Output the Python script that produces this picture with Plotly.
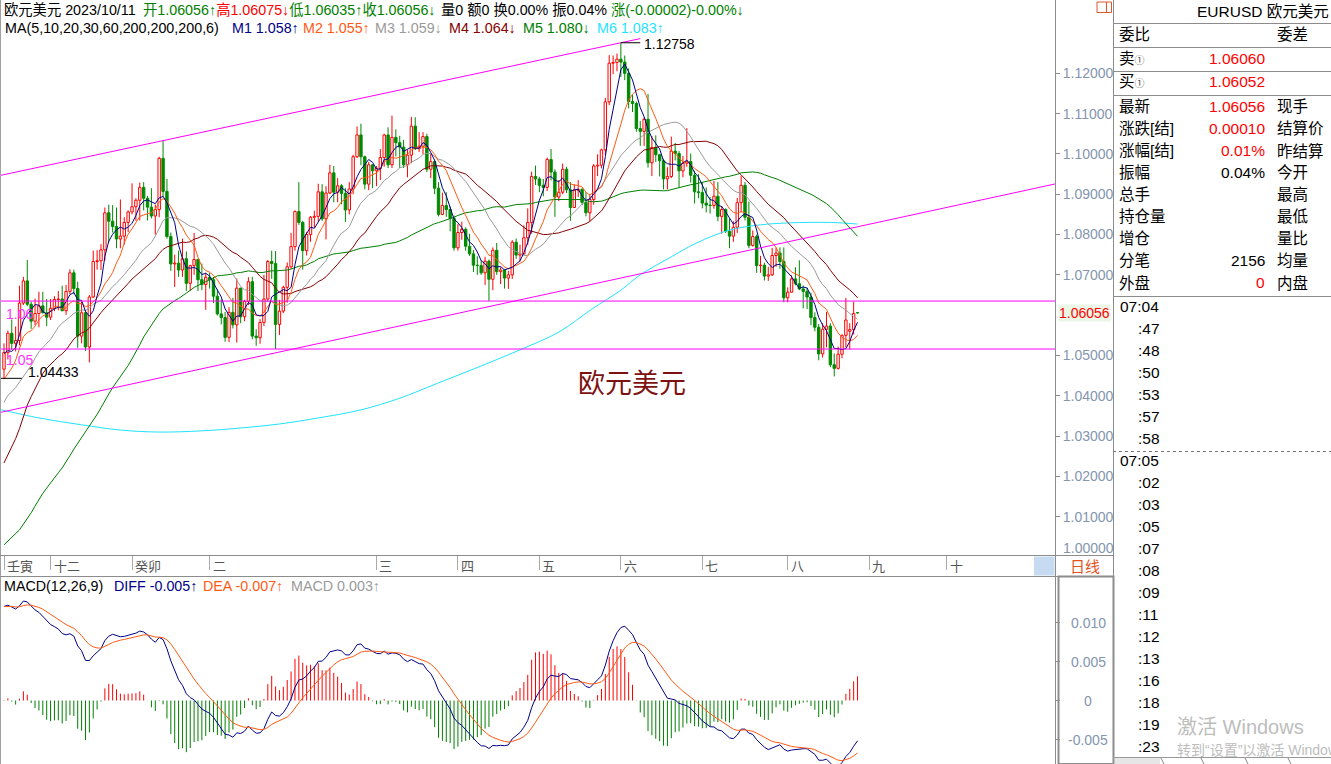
import plotly.graph_objects as go
import pandas as pd

W, H = 1331, 764
FONT = "Arial, 'Liberation Sans', 'Noto Sans CJK SC', sans-serif"

# ------------------------------------------------------------------ data
# lunar-month axis labels (candle index where each month starts)
lunar_idx = [0, 12, 33, 53, 96, 117, 138, 159, 180, 202, 223, 243]
lunar_txt = ["壬寅", "十二", "癸卯", "二", "三", "四", "五", "六", "七", "八", "九", "十"]

# closes before the visible window (indicator warm-up only)
prior_close = [
    1.0120, 0.9968, 0.9979, 0.9998, 1.0016, 1.0026, 0.9971, 0.9837, 0.9838, 0.9690,
    0.9608, 0.9592, 0.9735, 0.9815, 0.9802, 0.9826, 0.9985, 0.9890, 0.9795, 0.9741,
    0.9703, 0.9707, 0.9703, 0.9778, 0.9722, 0.9838, 0.9858, 0.9773, 0.9779, 0.9862,
    0.9880, 0.9962, 1.0078, 0.9968, 0.9964, 0.9882, 0.9877, 0.9817, 0.9750, 0.9960,
    1.0018, 1.0074, 1.0013, 1.0210, 1.0355, 1.0327, 1.0352, 1.0393, 1.0363, 1.0325,
    1.0242, 1.0304, 1.0397, 1.0410, 1.0398, 1.0340, 1.0330, 1.0405, 1.0522, 1.0538,
    1.0493, 1.0466]

open_ = [
    1.0466, 1.0507, 1.0555, 1.0530, 1.0537, 1.0630, 1.0685, 1.0627, 1.0585, 1.0604,
    1.0623, 1.0606, 1.0595, 1.0617, 1.0639, 1.0640, 1.0611, 1.0659, 1.0705, 1.0666,
    1.0548, 1.0606, 1.0521, 1.0645, 1.0733, 1.0735, 1.0762, 1.0854, 1.0833, 1.0820,
    1.0789, 1.0796, 1.0830, 1.0856, 1.0869, 1.0885, 1.0917, 1.0890, 1.0868, 1.0846,
    1.0862, 1.0989, 1.0907, 1.0795, 1.0727, 1.0729, 1.0712, 1.0740, 1.0679, 1.0723,
    1.0738, 1.0688, 1.0676, 1.0694, 1.0688, 1.0647, 1.0603, 1.0594, 1.0545, 1.0607,
    1.0576, 1.0667, 1.0596, 1.0634, 1.0683, 1.0548, 1.0544, 1.0582, 1.0640, 1.0733,
    1.0728, 1.0577, 1.0610, 1.0669, 1.0720, 1.0770, 1.0857, 1.0830, 1.0760, 1.0800,
    1.0843, 1.0845, 1.0906, 1.0839, 1.0903, 1.0953, 1.0905, 1.0921, 1.0902, 1.0861,
    1.0913, 1.0993, 1.1047, 1.0993, 1.0925, 1.0973, 1.0958, 1.0964, 1.0991, 1.1047,
    1.0973, 1.1041, 1.1028, 1.1017, 1.0973, 1.0997, 1.1069, 1.1013, 1.1019, 1.1043,
    1.0962, 1.0981, 1.0915, 1.0850, 1.0872, 1.0862, 1.0840, 1.0767, 1.0805, 1.0813,
    1.0771, 1.0752, 1.0724, 1.0723, 1.0705, 1.0734, 1.0689, 1.0761, 1.0708, 1.0712,
    1.0692, 1.0700, 1.0781, 1.0749, 1.0752, 1.0792, 1.0830, 1.0944, 1.0938, 1.0922,
    1.0917, 1.0986, 1.0955, 1.0893, 1.0905, 1.0962, 1.0911, 1.0867, 1.0910, 1.0912,
    1.0880, 1.0854, 1.0887, 1.0970, 1.0972, 1.1010, 1.1129, 1.1225, 1.1227, 1.1235,
    1.1228, 1.1200, 1.1130, 1.1125, 1.1063, 1.1056, 1.1086, 1.0978, 1.1016, 1.0998,
    1.0983, 1.0938, 1.0944, 1.1007, 1.1001, 1.0958, 1.0977, 1.0981, 1.0947, 1.0906,
    1.0904, 1.0878, 1.0873, 1.0872, 1.0895, 1.0845, 1.0862, 1.0808, 1.0796, 1.0818,
    1.0879, 1.0922, 1.0843, 1.0773, 1.0795, 1.0723, 1.0724, 1.0697, 1.0700, 1.0748,
    1.0754, 1.0733, 1.0643, 1.0657, 1.0690, 1.0678, 1.0665, 1.0659, 1.0645, 1.0594,
    1.0570, 1.0504, 1.0565, 1.0573, 1.0477, 1.0468, 1.0503, 1.0550, 1.0560, 1.0564,
    1.06056]

high = [
    1.0530, 1.0562, 1.0589, 1.0572, 1.0673, 1.0695, 1.0737, 1.0633, 1.0641, 1.0658,
    1.0658, 1.0640, 1.0640, 1.0647, 1.0660, 1.0673, 1.0675, 1.0714, 1.0713, 1.0683,
    1.0634, 1.0613, 1.0650, 1.0760, 1.0761, 1.0776, 1.0867, 1.0874, 1.0873, 1.0867,
    1.0887, 1.0843, 1.0860, 1.0927, 1.0890, 1.0929, 1.0930, 1.0896, 1.0915, 1.0874,
    1.0993, 1.1033, 1.0938, 1.0805, 1.0750, 1.0760, 1.0790, 1.0758, 1.0725, 1.0804,
    1.0740, 1.0728, 1.0705, 1.0705, 1.0695, 1.0664, 1.0639, 1.0608, 1.0620, 1.0643,
    1.0691, 1.0668, 1.0638, 1.0694, 1.0695, 1.0565, 1.0590, 1.0700, 1.0737, 1.0760,
    1.0759, 1.0638, 1.0673, 1.0731, 1.0804, 1.0860, 1.0930, 1.0834, 1.0806, 1.0846,
    1.0859, 1.0926, 1.0925, 1.0920, 1.0973, 1.0970, 1.0940, 1.0925, 1.0915, 1.0930,
    1.0998, 1.1068, 1.1075, 1.0996, 1.0980, 1.0974, 1.0970, 1.1012, 1.1050, 1.1066,
    1.1095, 1.1061, 1.1045, 1.1035, 1.1010, 1.1092, 1.1091, 1.1054, 1.1054, 1.1050,
    1.1000, 1.0986, 1.0930, 1.0904, 1.0905, 1.0870, 1.0847, 1.0826, 1.0832, 1.0818,
    1.0802, 1.0762, 1.0746, 1.0736, 1.0745, 1.0738, 1.0768, 1.0779, 1.0719, 1.0713,
    1.0710, 1.0786, 1.0790, 1.0775, 1.0823, 1.0865, 1.0956, 1.0971, 1.0943, 1.0938,
    1.0991, 1.1012, 1.0962, 1.0935, 1.0976, 1.0968, 1.0930, 1.0925, 1.0935, 1.0915,
    1.0905, 1.0900, 1.0975, 1.0999, 1.1013, 1.1139, 1.1245, 1.1244, 1.1249, 1.12758,
    1.1244, 1.1212, 1.1147, 1.1130, 1.1082, 1.1090, 1.1149, 1.1044, 1.1046, 1.1000,
    1.0988, 1.0967, 1.1043, 1.1027, 1.1007, 1.0995, 1.1064, 1.1001, 1.0958, 1.0950,
    1.0930, 1.0917, 1.0893, 1.0933, 1.0930, 1.0871, 1.0865, 1.0840, 1.0833, 1.0891,
    1.0945, 1.0930, 1.0882, 1.0810, 1.0800, 1.0747, 1.0730, 1.0720, 1.0767, 1.0768,
    1.0768, 1.0768, 1.0669, 1.0699, 1.0719, 1.0736, 1.0674, 1.0668, 1.0656, 1.0607,
    1.0578, 1.0580, 1.0608, 1.0580, 1.0505, 1.0522, 1.0552, 1.0643, 1.0580, 1.0633,
    1.06075]

low = [
    1.0443, 1.0490, 1.0514, 1.0510, 1.0525, 1.0625, 1.0622, 1.0566, 1.0575, 1.0570,
    1.0604, 1.0573, 1.0588, 1.0610, 1.0612, 1.0610, 1.0601, 1.0652, 1.0652, 1.0519,
    1.0530, 1.0511, 1.0483, 1.0643, 1.0713, 1.0712, 1.0735, 1.0780, 1.0805, 1.0766,
    1.0766, 1.0775, 1.0806, 1.0850, 1.0834, 1.0835, 1.0860, 1.0835, 1.0840, 1.0800,
    1.0843, 1.0893, 1.0790, 1.0710, 1.0670, 1.0695, 1.0695, 1.0660, 1.0660, 1.0700,
    1.0660, 1.0662, 1.0613, 1.0666, 1.0630, 1.0599, 1.0577, 1.0534, 1.0533, 1.0567,
    1.0532, 1.0580, 1.0585, 1.0625, 1.0540, 1.0524, 1.0529, 1.0573, 1.0633, 1.0690,
    1.0516, 1.0551, 1.0605, 1.0631, 1.0715, 1.0760, 1.0824, 1.0713, 1.0748, 1.0782,
    1.0817, 1.0832, 1.0834, 1.0788, 1.0900, 1.0880, 1.0880, 1.0875, 1.0831, 1.0850,
    1.0900, 1.0990, 1.0972, 1.0912, 1.0910, 1.0915, 1.0920, 1.0935, 1.0968, 1.0965,
    1.0965, 1.0994, 1.0965, 1.0965, 1.0942, 1.0977, 1.1010, 1.1005, 1.1000, 1.0955,
    1.0940, 1.0900, 1.0845, 1.0848, 1.0844, 1.0808, 1.0760, 1.0760, 1.0787, 1.0760,
    1.0747, 1.0707, 1.0700, 1.0700, 1.0675, 1.0635, 1.0662, 1.0700, 1.0677, 1.0666,
    1.0665, 1.0690, 1.0740, 1.0733, 1.0750, 1.0774, 1.0802, 1.0923, 1.0905, 1.0895,
    1.0908, 1.0934, 1.0844, 1.0883, 1.0900, 1.0903, 1.0834, 1.0866, 1.0893, 1.0873,
    1.0845, 1.0833, 1.0874, 1.0945, 1.0964, 1.0997, 1.1121, 1.1198, 1.1205, 1.1191,
    1.1183, 1.1113, 1.1104, 1.1055, 1.1020, 1.1020, 1.0966, 1.0945, 1.0980, 1.0944,
    1.0912, 1.0912, 1.0940, 1.0984, 1.0917, 1.0942, 1.0968, 1.0929, 1.0877, 1.0890,
    1.0865, 1.0855, 1.0852, 1.0864, 1.0833, 1.0802, 1.0804, 1.0766, 1.0782, 1.0804,
    1.0855, 1.0835, 1.0766, 1.0770, 1.0705, 1.0705, 1.0686, 1.0685, 1.0697, 1.0720,
    1.0715, 1.0632, 1.0632, 1.0656, 1.0674, 1.0662, 1.0617, 1.0615, 1.0575, 1.0560,
    1.0488, 1.0495, 1.0520, 1.0471, 1.0448, 1.0465, 1.0493, 1.0520, 1.0515, 1.0552,
    1.06035]

close = [
    1.0507, 1.0555, 1.0530, 1.0537, 1.0630, 1.0685, 1.0627, 1.0585, 1.0604, 1.0623,
    1.0606, 1.0595, 1.0617, 1.0639, 1.0640, 1.0611, 1.0659, 1.0705, 1.0666, 1.0548,
    1.0606, 1.0521, 1.0645, 1.0733, 1.0735, 1.0762, 1.0854, 1.0833, 1.0820, 1.0789,
    1.0796, 1.0830, 1.0856, 1.0869, 1.0885, 1.0917, 1.0890, 1.0868, 1.0846, 1.0862,
    1.0989, 1.0907, 1.0795, 1.0727, 1.0729, 1.0712, 1.0740, 1.0679, 1.0723, 1.0738,
    1.0688, 1.0676, 1.0694, 1.0688, 1.0647, 1.0603, 1.0594, 1.0545, 1.0607, 1.0576,
    1.0667, 1.0596, 1.0634, 1.0683, 1.0548, 1.0544, 1.0582, 1.0640, 1.0733, 1.0728,
    1.0577, 1.0610, 1.0669, 1.0720, 1.0770, 1.0857, 1.0830, 1.0760, 1.0800, 1.0843,
    1.0845, 1.0906, 1.0839, 1.0903, 1.0953, 1.0905, 1.0921, 1.0902, 1.0861, 1.0913,
    1.0993, 1.1047, 1.0993, 1.0925, 1.0973, 1.0958, 1.0964, 1.0991, 1.1047, 1.0973,
    1.1041, 1.1028, 1.1017, 1.0973, 1.0997, 1.1069, 1.1013, 1.1019, 1.1043, 1.0962,
    1.0981, 1.0915, 1.0850, 1.0872, 1.0862, 1.0840, 1.0767, 1.0805, 1.0813, 1.0771,
    1.0752, 1.0724, 1.0723, 1.0705, 1.0734, 1.0689, 1.0761, 1.0708, 1.0712, 1.0692,
    1.0700, 1.0781, 1.0749, 1.0752, 1.0792, 1.0830, 1.0944, 1.0938, 1.0922, 1.0917,
    1.0986, 1.0955, 1.0893, 1.0905, 1.0962, 1.0911, 1.0867, 1.0910, 1.0912, 1.0880,
    1.0854, 1.0887, 1.0970, 1.0972, 1.1010, 1.1129, 1.1225, 1.1227, 1.1235, 1.1228,
    1.1200, 1.1130, 1.1125, 1.1063, 1.1056, 1.1086, 1.0978, 1.1016, 1.0998, 1.0983,
    1.0938, 1.0944, 1.1007, 1.1001, 1.0958, 1.0977, 1.0981, 1.0947, 1.0906, 1.0904,
    1.0878, 1.0873, 1.0872, 1.0895, 1.0845, 1.0862, 1.0808, 1.0796, 1.0818, 1.0879,
    1.0922, 1.0843, 1.0773, 1.0795, 1.0723, 1.0724, 1.0697, 1.0700, 1.0748, 1.0754,
    1.0733, 1.0643, 1.0657, 1.0690, 1.0678, 1.0665, 1.0659, 1.0645, 1.0594, 1.0570,
    1.0504, 1.0565, 1.0573, 1.0477, 1.0468, 1.0503, 1.0550, 1.0588, 1.0564, 1.0604,
    1.06056]

# MA(200) (its history lies outside the window)
ma200_idx = [-1, 9, 20, 30, 40, 51, 61, 71, 81, 92, 102, 112, 123, 133, 143,
             151.5, 159, 164, 171.5, 178.5, 187, 195, 202.5, 213, 220]
ma200_val = [1.0366, 1.0345, 1.0328, 1.0315, 1.0310, 1.0313, 1.0320, 1.0330, 1.0345,
             1.0365, 1.0394, 1.0432, 1.0474, 1.0514, 1.0558, 1.0615, 1.0662, 1.0700,
             1.0742, 1.0779, 1.0811, 1.0824, 1.0829, 1.0830, 1.0826]

price_ticks = [1.12, 1.11, 1.10, 1.09, 1.08, 1.07, 1.05, 1.04, 1.03, 1.02, 1.01]
macd_ticks = [0.010, 0.005, 0.0, -0.005]
macd_tick_text = ["0.010", "0.005", "0", "-0.005"]
last_price = 1.06056
peak_price, peak_idx = 1.12758, 159
trough_price, trough_idx = 1.04433, 0
hline_levels = [1.0635, 1.0516]
hline_labels = ["1.06", "1.05"]

quote_left = ["最新", "涨跌[结]", "涨幅[结]", "振幅", "总手", "持仓量", "增仓", "分笔", "外盘"]
quote_vals = ["1.06056", "0.00010", "0.01%", "0.04%", "", "", "", "2156", "0"]
quote_right = ["现手", "结算价", "昨结算", "今开", "最高", "最低", "量比", "均量", "内盘"]
tick_times = ["07:04", ":47", ":48", ":50", ":53", ":57", ":58", "07:05", ":02", ":03",
              ":05", ":07", ":08", ":09", ":11", ":12", ":13", ":16", ":18", ":19", ":23"]

# ------------------------------------------------------------------ styles
RED = "#ff0000"
GRN = "#008a00"
NAVY = "#000088"
ORANGE = "#ff5a14"
GRAY = "#9a9a9a"
MAROON = "#850000"
MGREEN = "#008000"
CYAN = "#1fe3ff"
MAG = "#ff00ff"
AXC = "#8495ae"
LINE = "#8c8c8c"

XL, XR = -1.031, 270.9
YL, YH = 1.12 - (555 - 73.3) / 4031, 1.12 + 73.3 / 4031
ML, MH = -0.008141, 0.015833


def X(px):
    return px / W


def Y(py):
    return 1 - py / H


n = len(close)
idx = list(range(n))
S = pd.Series(prior_close + close)
P = len(prior_close)


def sma(k):
    return S.rolling(k).mean().iloc[P:].tolist()


ema12 = S.ewm(span=12, adjust=False).mean()
ema26 = S.ewm(span=26, adjust=False).mean()
diff_all = ema12 - ema26
dea_all = diff_all.ewm(span=9, adjust=False).mean()
diff = diff_all.iloc[P:].tolist()
dea = dea_all.iloc[P:].tolist()
hist = [2 * (a - b) for a, b in zip(diff, dea)]

fig = go.Figure()

# ---------------- candles
up_i, up_b, up_h, dn_i, dn_b, dn_h = [], [], [], [], [], []
wu_x, wu_y, wd_x, wd_y = [], [], [], []
for i, (o, h, l, c) in enumerate(zip(open_, high, low, close)):
    top, bot = max(o, c), min(o, c)
    body = max(top - bot, 0.00006)
    if c > o:
        up_i.append(i); up_b.append(bot); up_h.append(body)
        wx, wy = wu_x, wu_y
    else:
        dn_i.append(i); dn_b.append(bot); dn_h.append(body)
        wx, wy = wd_x, wd_y
    if h > top:
        wx += [i, i, None]; wy += [top, h, None]
    if l < bot:
        wx += [i, i, None]; wy += [l, bot, None]

fig.add_trace(go.Bar(x=up_i, y=up_h, base=up_b, width=0.62,
                     marker=dict(color="#ffffff", line=dict(color=RED, width=1)),
                     hoverinfo="skip"))
fig.add_trace(go.Bar(x=dn_i, y=dn_h, base=dn_b, width=0.62,
                     marker=dict(color=GRN, line=dict(color=GRN, width=1)),
                     hoverinfo="skip"))
fig.add_trace(go.Scatter(x=wu_x, y=wu_y, mode="lines", line=dict(color=RED, width=1),
                         hoverinfo="skip"))
fig.add_trace(go.Scatter(x=wd_x, y=wd_y, mode="lines", line=dict(color=GRN, width=1),
                         hoverinfo="skip"))

# ---------------- moving averages
fig.add_trace(go.Scatter(x=ma200_idx, y=ma200_val, mode="lines",
                         line=dict(color=CYAN, width=1, shape="spline"), hoverinfo="skip"))
for k, col in [(60, MGREEN), (30, MAROON), (20, GRAY), (10, ORANGE), (5, NAVY)]:
    fig.add_trace(go.Scatter(x=idx, y=sma(k), mode="lines", line=dict(color=col, width=1),
                             hoverinfo="skip"))

# ---------------- MACD
hr_x, hr_y, hg_x, hg_y = [], [], [], []
for i, v in enumerate(hist):
    if v >= 0:
        hr_x += [i, i, None]; hr_y += [0, v, None]
    else:
        hg_x += [i, i, None]; hg_y += [0, v, None]
fig.add_trace(go.Scatter(x=hr_x, y=hr_y, mode="lines", line=dict(color=RED, width=1),
                         xaxis="x2", yaxis="y2", hoverinfo="skip"))
fig.add_trace(go.Scatter(x=hg_x, y=hg_y, mode="lines", line=dict(color=MGREEN, width=1),
                         xaxis="x2", yaxis="y2", hoverinfo="skip"))
fig.add_trace(go.Scatter(x=idx, y=diff, mode="lines", line=dict(color=NAVY, width=1),
                         xaxis="x2", yaxis="y2", hoverinfo="skip"))
fig.add_trace(go.Scatter(x=idx, y=dea, mode="lines", line=dict(color=ORANGE, width=1),
                         xaxis="x2", yaxis="y2", hoverinfo="skip"))

# ---------------- shapes
shapes = []


def pline(x0, y0, x1, y1, color=LINE, width=1, dash=None):
    d = dict(type="line", xref="paper", yref="paper", x0=X(x0), y0=Y(y0), x1=X(x1), y1=Y(y1),
             line=dict(color=color, width=width))
    if dash:
        d["line"]["dash"] = dash
    shapes.append(d)


# trend channel (upper through the Feb and Jul highs, lower support line)
up_a = (41, 1.1033)
up_slope = (peak_price - up_a[1]) / (peak_idx - up_a[0])
shapes.append(dict(type="line", xref="x", yref="y", x0=XL, y0=up_a[1] + (XL - up_a[0]) * up_slope,
                   x1=164, y1=up_a[1] + (164 - up_a[0]) * up_slope, line=dict(color=MAG, width=1)))
shapes.append(dict(type="line", xref="x", yref="y", x0=XL, y0=1.03585, x1=XR, y1=1.09254,
                   line=dict(color=MAG, width=1)))
for lv in hline_levels:
    shapes.append(dict(type="line", xref="x", yref="y", x0=XL, y0=lv, x1=XR, y1=lv,
                       line=dict(color=MAG, width=1)))
# high / low markers
shapes.append(dict(type="line", xref="x", yref="y", x0=peak_idx, y0=peak_price, x1=164,
                   y1=peak_price, line=dict(color="#000000", width=1)))
shapes.append(dict(type="line", xref="x", yref="y", x0=XL, y0=trough_price, x1=4.6,
                   y1=trough_price, line=dict(color="#000000", width=1)))

# frame lines
pline(0.5, 0, 0.5, 764, "#a0a0a0")
pline(1055.5, 0, 1055.5, 764)
pline(1113.5, 0, 1113.5, 764)
pline(0, 555.5, 1113, 555.5)
pline(0, 576.5, 1113, 576.5)
shapes.append(dict(type="rect", xref="paper", yref="paper", x0=X(1034), x1=X(1054.5),
                   y0=Y(575.5), y1=Y(556.5), fillcolor="#c6dbf1", line=dict(width=0)))
shapes.append(dict(type="rect", xref="paper", yref="paper", x0=X(1058.5), x1=X(1113.5),
                   y0=Y(764), y1=Y(576.5), line=dict(color=LINE, width=2)))
# right panel
for yy in [23.5, 47.5, 71.5, 95.5, 296.5]:
    pline(1113, yy, 1331, yy)
pline(1113, 451.5, 1331, 451.5, "#777777", 1, "dot")
pline(1113, 757.5, 1331, 757.5, "#999999")
shapes.append(dict(type="rect", xref="paper", yref="paper", x0=X(1115), x1=X(1160),
                   y0=Y(764), y1=Y(758), fillcolor="#e6e6e6", line=dict(width=0)))
for tx in [1161, 1201, 1245, 1288]:
    pline(tx, 758, tx + 3, 764, "#888888")
# small icon top right of axis
shapes.append(dict(type="rect", xref="paper", yref="paper", x0=X(1097), x1=X(1111.5),
                   y0=Y(12.5), y1=Y(2), line=dict(color="#e0582a", width=1)))
pline(1106.5, 2, 1106.5, 12.5, "#e0582a")

# ---------------- annotations
ann = []


def txt(x, y, s, color="#000000", size=14, xanchor="left", yanchor="middle", **kw):
    d = dict(xref="paper", yref="paper", x=X(x), y=Y(y), text=s, showarrow=False,
             xanchor=xanchor, yanchor=yanchor, font=dict(family=FONT, size=size, color=color))
    d.update(kw)
    ann.append(d)


G = MGREEN
txt(2, 10, "欧元美元 2023/10/11", size=14.3)
txt(141, 10, f'<span style="color:{G}">开1.06056↑</span><span style="color:{RED}">高1.06075↓</span>'
             f'<span style="color:{G}">低1.06035↑</span><span style="color:{G}">收1.06056↓</span>',
    size=14.3)
txt(439, 10, f'量0 额0 换0.00% 振0.04% <span style="color:{G}">涨(-0.00002)-0.00%↓</span>',
    size=14.3)

for s, col, x in [("MA(5,10,20,30,60,200,200,200,6)", "#000000", 3), ("M1 1.058↑", NAVY, 230),
                  ("M2 1.055↑", ORANGE, 301), ("M3 1.059↓", GRAY, 373), ("M4 1.064↓", MAROON, 447),
                  ("M5 1.080↓", MGREEN, 521), ("M6 1.083↑", CYAN, 595)]:
    txt(x, 28, s, col, 14.3)

for s, col, x in [("MACD(12,26,9)", "#000000", 2), ("DIFF -0.005↑", NAVY, 112),
                  ("DEA -0.007↑", ORANGE, 201), ("MACD 0.003↑", GRAY, 289)]:
    txt(x, 586, s, col, 14.3)

# price markers
ann.append(dict(xref="x", yref="y", x=164.4, y=peak_price, text=f"{peak_price:.5f}", showarrow=False,
                xanchor="left", yanchor="middle", yshift=-1,
                font=dict(family=FONT, size=14, color="#000000")))
ann.append(dict(xref="x", yref="y", x=5.6, y=trough_price, text=f"{trough_price:.5f}", showarrow=False,
                xanchor="left", yanchor="middle", yshift=6,
                font=dict(family=FONT, size=14, color="#000000")))
for lv, lb, ys in zip(hline_levels, hline_labels, [-3, -1]):
    ann.append(dict(xref="x", yref="y", x=0, y=lv, text=lb, showarrow=False, xanchor="left",
                    yanchor="top", yshift=ys, font=dict(family=FONT, size=14, color="#ff33ff")))

txt(632, 384, "欧元美元", "#7d1212", 27, xanchor="center")

# lunar month labels on the date band
for i, s in zip(lunar_idx, lunar_txt):
    ann.append(dict(xref="x", yref="paper", x=i, y=Y(566), text=s, showarrow=False,
                    xanchor="left", yanchor="middle", xshift=1,
                    font=dict(family=FONT, size=13, color="#555555")))

txt(1085, 566, "日线", "#e2531d", 15, xanchor="center")

# axis extras
ann.append(dict(xref="paper", yref="y", x=X(1058), y=last_price, text=f"{last_price:.5f}",
                showarrow=False, xanchor="left", yanchor="middle", bgcolor="#eaf6e6", borderpad=0,
                font=dict(family=FONT, size=14, color=RED)))
txt(1061, 548, "1.00000", AXC, 14)
for v, s in zip(macd_ticks, macd_tick_text):
    ann.append(dict(xref="paper", yref="y2", x=X(1088), y=v, text=s, showarrow=False,
                    xanchor="center", yanchor="middle",
                    font=dict(family=FONT, size=14, color=AXC)))

# right quote panel
RS = 15.5
txt(1195, 12, "EURUSD 欧元美元", "#000000", RS)
txt(1117, 34, "委比", "#000000", RS)
txt(1275, 34, "委差", "#000000", RS)
txt(1117, 58, '卖<span style="font-size:10px;color:#444">①</span>', "#000000", RS)
txt(1267, 58, "1.06060", RED, RS, xanchor="right")
txt(1117, 81, '买<span style="font-size:10px;color:#444">①</span>', "#000000", RS)
txt(1267, 81, "1.06052", RED, RS, xanchor="right")
val_colors = [RED, RED, RED, "#000000", "#000000", "#000000", "#000000", "#000000", RED]
for k, (a, v, b) in enumerate(zip(quote_left, quote_vals, quote_right)):
    yy = 106.5 + 22 * k
    txt(1117, yy, a, "#000000", RS)
    if v:
        txt(1267, yy, v, val_colors[k], RS, xanchor="right")
    txt(1275, yy, b, "#000000", RS)

for k, s in enumerate(tick_times):
    yy = 306.7 + 22 * k
    txt(1117.5 if s.startswith("07") else 1135.5, yy, s, "#000000", RS)

txt(1175, 727, "激活 Windows", "#bdbdbd", 20)
txt(1175, 750, "转到“设置”以激活 Windows。", "#bdbdbd", 14)

fig.update_layout(
    width=W, height=H, margin=dict(l=0, r=0, t=0, b=0),
    paper_bgcolor="#ffffff", plot_bgcolor="#ffffff",
    showlegend=False, barmode="overlay", hovermode=False,
    shapes=shapes, annotations=ann,
    xaxis=dict(domain=[0, 1055 / W], range=[XL, XR], showgrid=False, zeroline=False,
               showline=True, linecolor=LINE, tickvals=lunar_idx, ticks="outside", ticklen=14,
               tickcolor="#aaaaaa", showticklabels=False, fixedrange=True),
    yaxis=dict(domain=[1 - 555 / H, 1], range=[YL, YH], side="right", showgrid=False,
               zeroline=False, showline=True, linecolor=LINE, tickvals=price_ticks,
               ticktext=[f"{v:.5f}" for v in price_ticks], ticks="outside", ticklen=4,
               tickcolor=LINE, tickfont=dict(family=FONT, size=14, color=AXC), fixedrange=True),
    xaxis2=dict(domain=[0, 1055 / W], range=[XL, XR], anchor="y2", showgrid=False,
                zeroline=False, showline=False, showticklabels=False, ticks="", fixedrange=True),
    yaxis2=dict(domain=[0, 187 / H], range=[ML, MH], anchor="x2", side="right", showgrid=False,
                zeroline=False, showline=False, tickvals=macd_ticks, ticks="outside", ticklen=4,
                tickcolor=LINE, showticklabels=False, fixedrange=True),
)

fig.write_html("out.html", config={"displayModeBar": False},
               post_script="document.body.style.margin='0';document.body.style.overflow='hidden';")
